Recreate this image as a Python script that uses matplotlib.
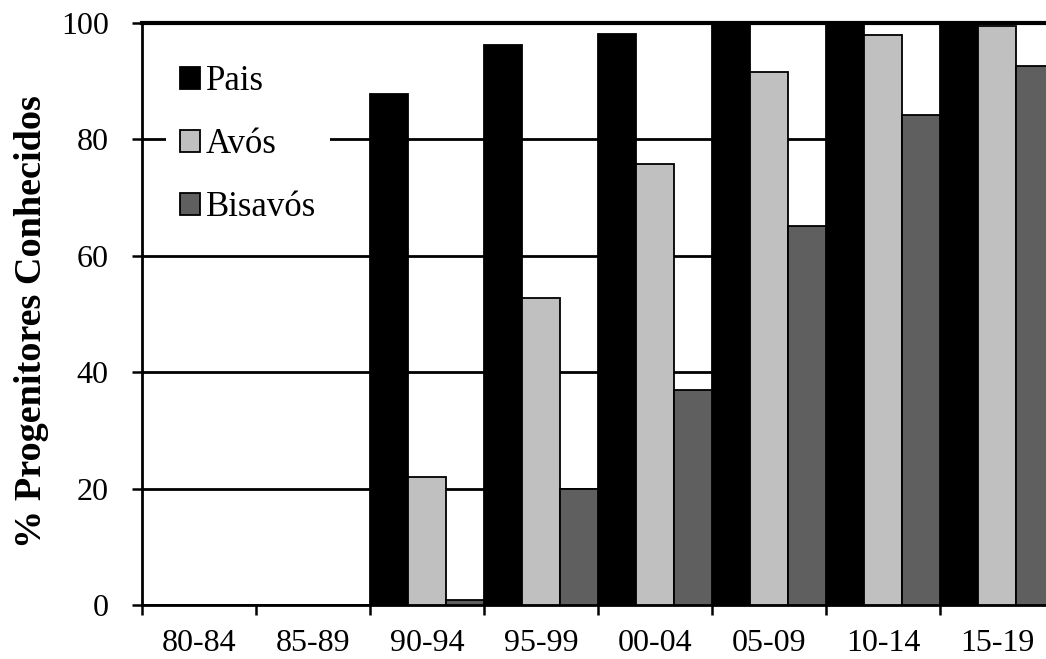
import matplotlib
matplotlib.use("Agg")
import matplotlib.pyplot as plt
import numpy as np

# Data
categories = ['80-84', '85-89', '90-94', '95-99', '00-04', '05-09', '10-14', '15-19']
pais = [0, 0, 87.8, 96.2, 98.1, 100, 100, 100]
avos = [0, 0, 22.0, 52.8, 75.7, 91.6, 98.0, 99.5]
bisavos = [0, 0, 0.9, 19.9, 36.9, 65.2, 84.2, 92.6]
series_names = ['Pais', 'Avós', 'Bisavós']
series_colors = ['#000000', '#C0C0C0', '#5F5F5F']

plt.rcParams['font.family'] = ['Liberation Serif', 'DejaVu Serif']

fig = plt.figure(figsize=(10.46, 6.59), dpi=100)
# axes run past the right edge of the picture, as in the reference
ax = fig.add_axes([142 / 1046, 54 / 659, 912 / 1046, 582 / 659])

x = np.arange(len(categories))
w = 1 / 3
for k, (vals, name, col) in enumerate(zip([pais, avos, bisavos], series_names, series_colors)):
    ax.bar(x + (k - 1) * w, vals, width=w, color=col, edgecolor='black',
           linewidth=1.3, label=name, zorder=3)

ax.set_xlim(-0.5, len(categories) - 0.5)
ax.set_ylim(0, 100)
ax.set_yticks(range(0, 101, 20))
ax.yaxis.grid(True, color='black', linewidth=2, zorder=0)
ax.set_axisbelow(True)

# category borders get the tick marks, labels sit in the middle
ax.set_xticks(np.arange(-0.5, len(categories)))
ax.set_xticklabels([])
ax.set_xticks(x, minor=True)
ax.set_xticklabels(categories, minor=True)
ax.tick_params(axis='x', which='major', direction='out', length=7, width=1.8)
ax.tick_params(axis='x', which='minor', length=0, pad=17, labelsize=23)
ax.tick_params(axis='y', direction='out', length=7, width=1.8, pad=17, labelsize=23)

for side in ['left', 'bottom']:
    ax.spines[side].set_linewidth(2)
ax.spines['top'].set_linewidth(3)
ax.spines['right'].set_visible(False)

ax.set_ylabel('% Progenitores Conhecidos', fontsize=27.5, fontweight='bold')
ax.yaxis.set_label_coords(-0.102, 0.487)

leg = ax.legend(loc='upper left', bbox_to_anchor=(0.026, 0.952), borderaxespad=0,
                fontsize=25, frameon=True, fancybox=False, edgecolor='none',
                facecolor='white', framealpha=1, handlelength=0.6,
                handleheight=0.6, handletextpad=0.15, labelspacing=0.87,
                borderpad=0.4)

fig.savefig('out.png', dpi=100)
